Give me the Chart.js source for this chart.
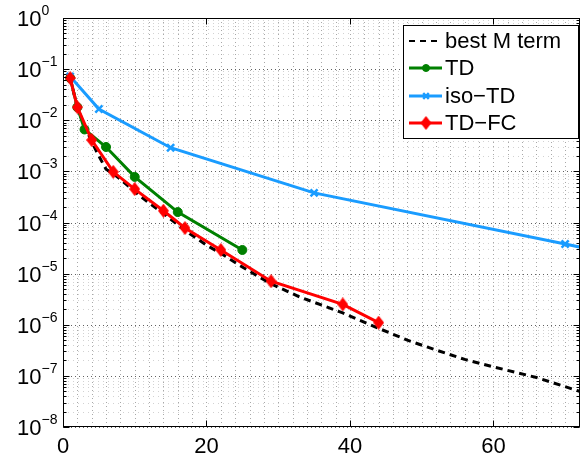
<!DOCTYPE html>
<html>
<head>
<meta charset="utf-8">
<script src="https://cdn.jsdelivr.net/npm/chart.js@4"></script>
<style>
  body { margin: 0; background: #fff; }
  canvas { display: block; }
</style>
</head>
<body>
<canvas id="chart" width="587" height="457"></canvas>
<script>
// Data
const bestX = [1, 2, 3, 4, 5, 6, 7, 8, 10, 12, 14, 17, 20, 22, 25, 29, 33, 39, 44, 48, 52, 56, 60, 66, 72];
const bestY = [0.067, 0.0175, 0.008, 0.0038, 0.002, 0.0011, 0.0009, 0.0007, 0.0004, 0.00024, 0.00015, 7e-5, 3.6e-5, 2.5e-5, 1.35e-5, 6.3e-6, 3.5e-6, 1.7e-6, 8.5e-7, 5e-7, 3.2e-7, 2.1e-7, 1.5e-7, 9.3e-8, 5e-8];

const tdX = [1, 2, 3, 6, 10, 16, 25];
const tdY = [0.067, 0.018, 0.0066, 0.003, 0.00078, 0.00016, 2.9e-5];

const isoX = [1, 5, 15, 35, 70, 75];
const isoY = [0.072, 0.0166, 0.0029, 0.00038, 3.8e-5, 2.7e-5];

const fcX = [1, 2, 4, 7, 10, 14, 17, 22, 29, 39, 44];
const fcY = [0.067, 0.018, 0.0041, 0.00098, 0.00045, 0.00017, 7.8e-5, 2.9e-5, 7.1e-6, 2.5e-6, 1.1e-6];

const seriesNames = ["best M term", "TD", "iso\u2212TD", "TD\u2212FC"];
const xTicks = [0, 20, 40, 60];
const yExponents = [0, -1, -2, -3, -4, -5, -6, -7, -8];

const GREEN = "#008000";
const BLUE = "#1a9cff";
const RED = "#ff0000";
const FONT = "Liberation Sans, Arial, sans-serif";

function pts(xs, ys) {
    return xs.map((x, i) => ({ x: x, y: ys[i] }));
}

// tall matlab-like diamond marker
function makeDiamond(color) {
    const c = document.createElement("canvas");
    c.width = 11; c.height = 14;
    const g = c.getContext("2d");
    g.fillStyle = color;
    g.beginPath();
    g.moveTo(5.5, 0); g.lineTo(11, 7); g.lineTo(5.5, 14); g.lineTo(0, 7);
    g.closePath(); g.fill();
    return c;
}
const diamond = makeDiamond(RED);

// Grid, box, tick labels and legend drawn by hand (matlab style)
const axesPlugin = {
    id: "axesPlugin",
    beforeDatasetsDraw(chart) {
        const ctx = chart.ctx, a = chart.chartArea;
        const xs = chart.scales.x, ys = chart.scales.y;
        ctx.save();
        ctx.lineWidth = 1;
        // minor horizontal grid
        ctx.setLineDash([1, 4]);
        ctx.strokeStyle = "#d2d2d2";
        for (let e = -8; e < 0; e++) {
            for (let m = 2; m <= 9; m++) {
                const py = Math.round(ys.getPixelForValue(m * Math.pow(10, e))) + 0.5;
                ctx.beginPath(); ctx.moveTo(a.left, py); ctx.lineTo(a.right, py); ctx.stroke();
            }
        }
        // vertical dotted grid every 2 units
        ctx.setLineDash([1, 3]);
        ctx.strokeStyle = "#a8a8a8";
        for (let v = 2; v < 72; v += 2) {
            const px = Math.round(xs.getPixelForValue(v)) + 0.5;
            ctx.beginPath(); ctx.moveTo(px, a.bottom); ctx.lineTo(px, a.top); ctx.stroke();
        }
        // major horizontal grid
        ctx.setLineDash([1, 3]);
        ctx.strokeStyle = "#606060";
        yExponents.forEach(e => {
            const py = Math.round(ys.getPixelForValue(Math.pow(10, e))) + 0.5;
            ctx.beginPath(); ctx.moveTo(a.left, py); ctx.lineTo(a.right, py); ctx.stroke();
        });
        ctx.restore();
    },
    afterDraw(chart) {
        const ctx = chart.ctx, a = chart.chartArea;
        const xs = chart.scales.x, ys = chart.scales.y;
        ctx.save();
        ctx.setLineDash([]);
        ctx.strokeStyle = "#000";
        ctx.lineWidth = 1;
        const L = Math.round(a.left) + 0.5, R = Math.round(a.right) - 0.5;
        const T = Math.round(a.top) + 0.5, B = Math.round(a.bottom) - 0.5;
        ctx.strokeRect(L, T, R - L, B - T);

        // y ticks (left and right, inward)
        for (let e = -8; e <= 0; e++) {
            for (let m = 1; m <= 9; m++) {
                if (e === 0 && m > 1) break;
                const py = Math.round(ys.getPixelForValue(m * Math.pow(10, e))) + 0.5;
                const len = m === 1 ? 6 : 3;
                ctx.beginPath();
                ctx.moveTo(L, py); ctx.lineTo(L + len, py);
                ctx.moveTo(R, py); ctx.lineTo(R - len, py);
                ctx.stroke();
            }
        }
        // x ticks (bottom and top, inward)
        xTicks.forEach(v => {
            const px = Math.round(xs.getPixelForValue(v)) + 0.5;
            ctx.beginPath();
            ctx.moveTo(px, B); ctx.lineTo(px, B - 6);
            ctx.moveTo(px, T); ctx.lineTo(px, T + 6);
            ctx.stroke();
        });

        // tick labels
        ctx.fillStyle = "#000";
        ctx.textBaseline = "alphabetic";
        ctx.textAlign = "center";
        ctx.font = "22px " + FONT;
        xTicks.forEach(v => {
            ctx.fillText(String(v), xs.getPixelForValue(v), a.bottom + 26);
        });
        yExponents.forEach(e => {
            const py = ys.getPixelForValue(Math.pow(10, e));
            ctx.textAlign = "left";
            ctx.font = "22px " + FONT;
            ctx.fillText("10", 17, py + 8);
            const w = ctx.measureText("10").width;
            ctx.font = "14px " + FONT;
            ctx.fillText(e === 0 ? "0" : "\u2212" + (-e), 17 + w, py - 3);
        });

        // legend
        const bx = 403.5, by = 25.5, bw = 175, bh = 113;
        ctx.fillStyle = "#fff";
        ctx.fillRect(bx, by, bw, bh);
        ctx.strokeRect(bx, by, bw, bh);
        const rows = [41, 68, 96, 123];
        chart.data.datasets.forEach((ds, i) => {
            const y = rows[i];
            ctx.save();
            ctx.strokeStyle = ds.borderColor;
            ctx.lineWidth = i === 0 ? 2 : 3;
            ctx.setLineDash(i === 0 ? [6, 5] : []);
            ctx.beginPath(); ctx.moveTo(409, y); ctx.lineTo(442, y); ctx.stroke();
            ctx.restore();
            if (ds.pointStyle instanceof HTMLCanvasElement) {
                ctx.drawImage(ds.pointStyle, 426 - ds.pointStyle.width / 2, y - ds.pointStyle.height / 2);
            } else if (ds.pointRadius > 0) {
                ctx.save();
                ctx.fillStyle = ds.pointBackgroundColor;
                ctx.strokeStyle = ds.pointBorderColor;
                ctx.lineWidth = ds.pointBorderWidth;
                Chart.helpers.drawPoint(ctx, {
                    pointStyle: ds.pointStyle,
                    radius: ds.pointRadius - 1,
                    rotation: 0,
                    borderWidth: ds.pointBorderWidth
                }, 426, y);
                ctx.restore();
            }
            ctx.fillStyle = "#000";
            ctx.font = "22px " + FONT;
            ctx.textAlign = "left";
            ctx.textBaseline = "middle";
            ctx.fillText(ds.label, 445, y + 1);
        });
        ctx.restore();
    }
};

const chart = new Chart(document.getElementById("chart"), {
    type: "line",
    data: {
        datasets: [
            {
                label: seriesNames[0], data: pts(bestX, bestY), order: 4,
                borderColor: "#000", borderWidth: 3, borderDash: [7, 5],
                pointRadius: 0, fill: false
            },
            {
                label: seriesNames[1], data: pts(tdX, tdY), order: 3,
                borderColor: GREEN, borderWidth: 3,
                pointStyle: "circle", pointRadius: 4.5,
                pointBackgroundColor: GREEN, pointBorderColor: GREEN, pointBorderWidth: 1
            },
            {
                label: seriesNames[2], data: pts(isoX, isoY), order: 2,
                borderColor: BLUE, borderWidth: 3,
                pointStyle: "crossRot", pointRadius: 5,
                pointBackgroundColor: BLUE, pointBorderColor: BLUE, pointBorderWidth: 2.5
            },
            {
                label: seriesNames[3], data: pts(fcX, fcY), order: 1,
                borderColor: RED, borderWidth: 3,
                pointStyle: diamond, pointRadius: 6,
                pointBackgroundColor: RED, pointBorderColor: RED, pointBorderWidth: 1
            }
        ]
    },
    options: {
        responsive: false,
        animation: false,
        layout: { padding: { left: 63, top: 18, right: 5, bottom: 30 } },
        elements: { line: { tension: 0 } },
        plugins: { legend: { display: false }, tooltip: { enabled: false } },
        scales: {
            x: {
                type: "linear", min: 0, max: 72,
                ticks: { display: false },
                grid: { display: false, drawTicks: false },
                border: { display: false }
            },
            y: {
                type: "logarithmic", min: 1e-8, max: 1,
                ticks: { display: false },
                grid: { display: false, drawTicks: false },
                border: { display: false }
            }
        }
    },
    plugins: [axesPlugin]
});
</script>
</body>
</html>
